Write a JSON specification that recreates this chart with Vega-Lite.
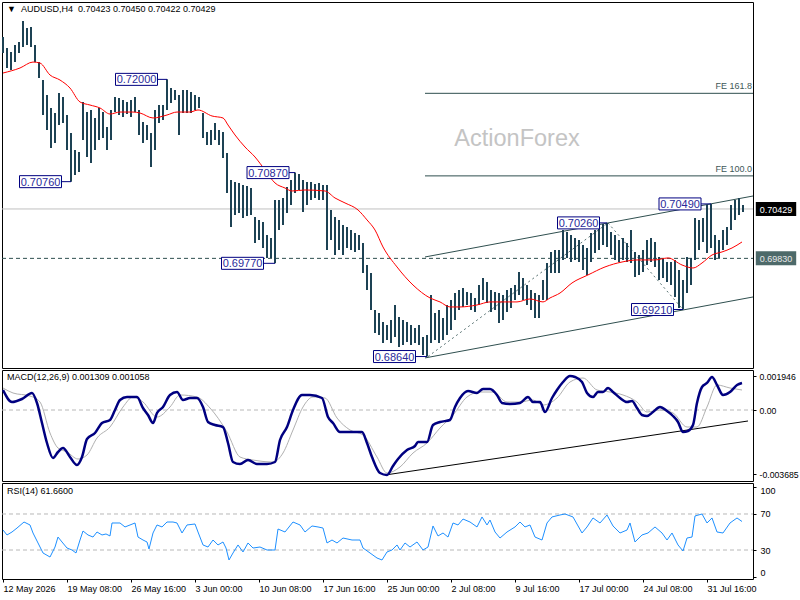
{
  "$schema": "https://vega.github.io/schema/vega-lite/v6.json",
  "background": "white",
  "autosize": {"type": "none"},
  "padding": {"left": 2, "top": 2, "right": 798, "bottom": 598},
  "bounds": "flush",
  "spacing": 2,
  "resolve": {"scale": {"x": "independent", "y": "independent"}},
  "config": {
    "font": "Liberation Sans",
    "view": {"stroke": "black", "strokeWidth": 1},
    "axis": {"labelFont": "Liberation Sans", "labelFontSize": 9, "labelColor": "black", "tickColor": "black", "tickSize": 3, "domain": false, "grid": false, "labelOverlap": false, "labelFlush": false},
    "text": {"font": "Liberation Sans"}
  },
  "datasets": {
    "bars": [
      {"i":0,"lo":0.7232,"hi":0.72514},{"i":2,"lo":0.72138,"hi":0.7238},{"i":4,"lo":0.72114,"hi":0.72332},{"i":6,"lo":0.7221,"hi":0.72417},
      {"i":8,"lo":0.7232,"hi":0.72453},{"i":10,"lo":0.72392,"hi":0.72707},{"i":12,"lo":0.72417,"hi":0.72623},{"i":14,"lo":0.72392,"hi":0.72635},
      {"i":16,"lo":0.7221,"hi":0.72417},{"i":18,"lo":0.72017,"hi":0.7221},{"i":20,"lo":0.71568,"hi":0.71992},{"i":22,"lo":0.71386,"hi":0.7181},
      {"i":24,"lo":0.71168,"hi":0.71653},{"i":26,"lo":0.71229,"hi":0.71592},{"i":28,"lo":0.71447,"hi":0.71835},{"i":30,"lo":0.71471,"hi":0.71786},
      {"i":32,"lo":0.71144,"hi":0.71568},{"i":34,"lo":0.7076,"hi":0.7135},{"i":36,"lo":0.70841,"hi":0.71144},{"i":38,"lo":0.70877,"hi":0.7112},
      {"i":40,"lo":0.71265,"hi":0.71726},{"i":42,"lo":0.71059,"hi":0.71604},{"i":44,"lo":0.70986,"hi":0.71629},{"i":46,"lo":0.71144,"hi":0.71532},
      {"i":48,"lo":0.71265,"hi":0.71653},{"i":50,"lo":0.71289,"hi":0.71604},{"i":52,"lo":0.71144,"hi":0.71423},{"i":54,"lo":0.71265,"hi":0.71629},
      {"i":56,"lo":0.71604,"hi":0.71786},{"i":58,"lo":0.71568,"hi":0.71774},{"i":60,"lo":0.71544,"hi":0.7175},{"i":62,"lo":0.7158,"hi":0.71726},
      {"i":64,"lo":0.71544,"hi":0.7175},{"i":66,"lo":0.71604,"hi":0.71786},{"i":68,"lo":0.71326,"hi":0.71629},{"i":70,"lo":0.71229,"hi":0.71483},
      {"i":72,"lo":0.71265,"hi":0.71447},{"i":74,"lo":0.70938,"hi":0.7135},{"i":76,"lo":0.71144,"hi":0.71629},{"i":78,"lo":0.71471,"hi":0.71689},
      {"i":80,"lo":0.71507,"hi":0.71689},{"i":82,"lo":0.71629,"hi":0.72},{"i":84,"lo":0.71713,"hi":0.71895},{"i":86,"lo":0.7175,"hi":0.71871},
      {"i":88,"lo":0.71326,"hi":0.7181},{"i":90,"lo":0.71592,"hi":0.71871},{"i":92,"lo":0.71592,"hi":0.71871},{"i":94,"lo":0.71592,"hi":0.71847},
      {"i":96,"lo":0.71629,"hi":0.7181},{"i":98,"lo":0.71653,"hi":0.71786},{"i":100,"lo":0.71289,"hi":0.71592},{"i":102,"lo":0.71204,"hi":0.71362},
      {"i":104,"lo":0.71204,"hi":0.71386},{"i":106,"lo":0.71265,"hi":0.71471},{"i":108,"lo":0.71204,"hi":0.71386},{"i":110,"lo":0.71047,"hi":0.71362},
      {"i":112,"lo":0.70623,"hi":0.71107},{"i":114,"lo":0.70211,"hi":0.7078},{"i":116,"lo":0.70356,"hi":0.70756},{"i":118,"lo":0.7038,"hi":0.70744},
      {"i":120,"lo":0.7032,"hi":0.7072},{"i":122,"lo":0.70344,"hi":0.70708},{"i":124,"lo":0.70356,"hi":0.70683},{"i":126,"lo":0.70017,"hi":0.70332},
      {"i":128,"lo":0.70053,"hi":0.70296},{"i":130,"lo":0.69956,"hi":0.70271},{"i":132,"lo":0.69835,"hi":0.70114},{"i":134,"lo":0.69835,"hi":0.70077},
      {"i":136,"lo":0.6977,"hi":0.70538},{"i":138,"lo":0.70174,"hi":0.70538},{"i":140,"lo":0.70235,"hi":0.70562},{"i":142,"lo":0.7038,"hi":0.70695},
      {"i":144,"lo":0.70477,"hi":0.7078},{"i":146,"lo":0.70623,"hi":0.7087},{"i":148,"lo":0.70659,"hi":0.70853},{"i":150,"lo":0.70392,"hi":0.7078},
      {"i":152,"lo":0.70477,"hi":0.70756},{"i":154,"lo":0.70538,"hi":0.70756},{"i":156,"lo":0.70562,"hi":0.70732},{"i":158,"lo":0.70538,"hi":0.70744},
      {"i":160,"lo":0.70538,"hi":0.7072},{"i":162,"lo":0.69932,"hi":0.7072},{"i":164,"lo":0.70053,"hi":0.70417},{"i":166,"lo":0.69871,"hi":0.70332},
      {"i":168,"lo":0.69932,"hi":0.70296},{"i":170,"lo":0.69871,"hi":0.70235},{"i":172,"lo":0.69956,"hi":0.70211},{"i":174,"lo":0.69932,"hi":0.70174},
      {"i":176,"lo":0.69908,"hi":0.70138},{"i":178,"lo":0.69932,"hi":0.70114},{"i":180,"lo":0.69653,"hi":0.70017},{"i":182,"lo":0.69447,"hi":0.6975},
      {"i":184,"lo":0.69204,"hi":0.69653},{"i":186,"lo":0.68926,"hi":0.69204},{"i":188,"lo":0.68901,"hi":0.69168},{"i":190,"lo":0.68804,"hi":0.69059},
      {"i":192,"lo":0.68841,"hi":0.69023},{"i":194,"lo":0.68804,"hi":0.69083},{"i":196,"lo":0.68877,"hi":0.69265},{"i":198,"lo":0.68756,"hi":0.6912},
      {"i":200,"lo":0.6878,"hi":0.69083},{"i":202,"lo":0.68817,"hi":0.69059},{"i":204,"lo":0.6878,"hi":0.69023},{"i":206,"lo":0.68804,"hi":0.68986},
      {"i":208,"lo":0.6878,"hi":0.69023},{"i":210,"lo":0.68659,"hi":0.68877},{"i":212,"lo":0.6864,"hi":0.68901},{"i":214,"lo":0.68804,"hi":0.69386},
      {"i":216,"lo":0.68841,"hi":0.69168},{"i":218,"lo":0.68804,"hi":0.69204},{"i":220,"lo":0.68841,"hi":0.69107},{"i":222,"lo":0.68901,"hi":0.69265},
      {"i":224,"lo":0.68962,"hi":0.69326},{"i":226,"lo":0.69083,"hi":0.6941},{"i":228,"lo":0.69204,"hi":0.69447},{"i":230,"lo":0.69241,"hi":0.69471},
      {"i":232,"lo":0.69265,"hi":0.69423},{"i":234,"lo":0.69204,"hi":0.6941},{"i":236,"lo":0.6918,"hi":0.6935},{"i":238,"lo":0.69265,"hi":0.69507},
      {"i":240,"lo":0.69326,"hi":0.69592},{"i":242,"lo":0.69289,"hi":0.69544},{"i":244,"lo":0.6918,"hi":0.69447},{"i":246,"lo":0.69204,"hi":0.69423},
      {"i":248,"lo":0.69047,"hi":0.6941},{"i":250,"lo":0.69083,"hi":0.69386},{"i":252,"lo":0.6918,"hi":0.69447},{"i":254,"lo":0.69229,"hi":0.69471},
      {"i":256,"lo":0.69326,"hi":0.69507},{"i":258,"lo":0.69386,"hi":0.69665},{"i":260,"lo":0.69326,"hi":0.69592},{"i":262,"lo":0.69265,"hi":0.69507},
      {"i":264,"lo":0.69204,"hi":0.69447},{"i":266,"lo":0.69107,"hi":0.6941},{"i":268,"lo":0.69107,"hi":0.69386},{"i":270,"lo":0.69326,"hi":0.69568},
      {"i":272,"lo":0.69326,"hi":0.69774},{"i":274,"lo":0.69653,"hi":0.69908},{"i":276,"lo":0.69653,"hi":0.69932},{"i":278,"lo":0.69653,"hi":0.69932},
      {"i":280,"lo":0.69811,"hi":0.70174},{"i":282,"lo":0.69835,"hi":0.7015},{"i":284,"lo":0.69786,"hi":0.70114},{"i":286,"lo":0.69811,"hi":0.70077},
      {"i":288,"lo":0.69786,"hi":0.70053},{"i":290,"lo":0.69689,"hi":0.69993},{"i":292,"lo":0.69629,"hi":0.69956},{"i":294,"lo":0.69786,"hi":0.70138},
      {"i":296,"lo":0.69896,"hi":0.70174},{"i":298,"lo":0.69932,"hi":0.70199},{"i":300,"lo":0.69993,"hi":0.70247},{"i":302,"lo":0.69968,"hi":0.7026},
      {"i":304,"lo":0.69871,"hi":0.7015},{"i":306,"lo":0.69811,"hi":0.70114},{"i":308,"lo":0.69786,"hi":0.70053},{"i":310,"lo":0.69811,"hi":0.70077},
      {"i":312,"lo":0.69786,"hi":0.70017},{"i":314,"lo":0.69774,"hi":0.70174},{"i":316,"lo":0.69604,"hi":0.69908},{"i":318,"lo":0.69629,"hi":0.69871},
      {"i":320,"lo":0.69665,"hi":0.69932},{"i":322,"lo":0.6975,"hi":0.70053},{"i":324,"lo":0.69786,"hi":0.70077},{"i":326,"lo":0.69726,"hi":0.70029},
      {"i":328,"lo":0.69568,"hi":0.69847},{"i":330,"lo":0.69592,"hi":0.69835},{"i":332,"lo":0.69544,"hi":0.69786},{"i":334,"lo":0.69507,"hi":0.69786},
      {"i":336,"lo":0.69362,"hi":0.69811},{"i":338,"lo":0.69229,"hi":0.69689},{"i":340,"lo":0.6921,"hi":0.69568},{"i":342,"lo":0.6941,"hi":0.69847},
      {"i":344,"lo":0.69507,"hi":0.69835},{"i":346,"lo":0.69811,"hi":0.7032},{"i":348,"lo":0.69932,"hi":0.70296},{"i":350,"lo":0.70029,"hi":0.7032},
      {"i":352,"lo":0.69896,"hi":0.70477},{"i":354,"lo":0.69956,"hi":0.7049},{"i":356,"lo":0.69811,"hi":0.70114},{"i":358,"lo":0.69835,"hi":0.70053},
      {"i":360,"lo":0.69932,"hi":0.70174},{"i":362,"lo":0.69993,"hi":0.70211},{"i":364,"lo":0.70174,"hi":0.70477},{"i":366,"lo":0.70296,"hi":0.70538},
      {"i":368,"lo":0.70356,"hi":0.70562},{"i":370,"lo":0.70392,"hi":0.70477}
    ],
    "ma": [
      {"i":0,"p":0.72077},{"i":8.5,"p":0.72138},{"i":15,"p":0.7221},{"i":18.5,"p":0.72198},{"i":23.5,"p":0.72053},{"i":28.5,"p":0.71992},
      {"i":33.5,"p":0.71895},{"i":38.5,"p":0.71726},{"i":43.5,"p":0.71689},{"i":48.5,"p":0.71653},{"i":53.5,"p":0.7158},{"i":58.5,"p":0.71604},
      {"i":65,"p":0.71604},{"i":68.5,"p":0.71592},{"i":75,"p":0.71532},{"i":82,"p":0.71568},{"i":87,"p":0.71604},{"i":93.5,"p":0.71604},
      {"i":97.5,"p":0.71629},{"i":104.5,"p":0.71556},{"i":110,"p":0.71532},{"i":112.5,"p":0.71447},{"i":116,"p":0.71326},{"i":121,"p":0.7118},
      {"i":126,"p":0.71059},{"i":131,"p":0.70901},{"i":136,"p":0.70744},{"i":141,"p":0.70683},{"i":144.5,"p":0.70647},{"i":151,"p":0.70659},
      {"i":161,"p":0.70647},{"i":166,"p":0.70562},{"i":171,"p":0.70502},{"i":177.5,"p":0.70417},{"i":182,"p":0.70296},{"i":186,"p":0.70174},
      {"i":190,"p":0.69968},{"i":197,"p":0.69726},{"i":205,"p":0.69507},{"i":213.5,"p":0.6935},{"i":218.5,"p":0.69302},{"i":223.5,"p":0.69241},
      {"i":228.5,"p":0.69241},{"i":237,"p":0.69265},{"i":243.5,"p":0.69302},{"i":250,"p":0.69302},{"i":257,"p":0.69302},{"i":263.5,"p":0.69338},
      {"i":270,"p":0.69302},{"i":273.5,"p":0.6935},{"i":278.5,"p":0.6941},{"i":284.5,"p":0.69532},{"i":292.5,"p":0.69629},{"i":301,"p":0.69726},
      {"i":309.5,"p":0.69786},{"i":317.5,"p":0.69811},{"i":326,"p":0.69811},{"i":332.5,"p":0.69835},{"i":339.5,"p":0.6975},{"i":345,"p":0.69713},
      {"i":349.5,"p":0.69774},{"i":354.5,"p":0.69871},{"i":359.5,"p":0.69908},{"i":364.5,"p":0.69956},{"i":369.5,"p":0.70029}
    ],
    "chan": [
      {"i":211,"p":0.69847,"i2":375,"p2":0.70586},
      {"i":211,"p":0.68623,"i2":375,"p2":0.69362},
      {"i":211,"p":0.7083,"i2":375,"p2":0.7083},
      {"i":211,"p":0.71831,"i2":375,"p2":0.71831}
    ],
    "fibdots": [
      {"i":212.5,"p":0.6864,"i2":302.5,"p2":0.7026},
      {"i":302.5,"p":0.7026,"i2":340,"p2":0.6921}
    ],
    "level": [{"i":-0.5,"i2":375,"p":0.6983}],
    "bid": [{"i":-0.5,"i2":375,"p":0.70429}],
    "fe": [{"t":"FE 161.8","i":374.5,"p":0.71831},{"t":"FE 100.0","i":374.5,"p":0.7083}],
    "brand": [{"t":"ActionForex","i":257,"p":0.71277}],
    "head": [{"t":"▼\u00a0\u00a0AUDUSD,H4\u00a0\u00a00.70423 0.70450 0.70422 0.70429","i":2,"p":0.72938}],
    "labels": [
      {"t":"0.72000","i":66.75,"p":0.72,"i2":82},
      {"t":"0.70760","i":18.75,"p":0.7076,"i2":34},
      {"t":"0.70870","i":132.5,"p":0.7087,"i2":146},
      {"t":"0.69770","i":119.75,"p":0.6977,"i2":136},
      {"t":"0.68640","i":195.75,"p":0.6864,"i2":212},
      {"t":"0.70260","i":287.75,"p":0.7026,"i2":302},
      {"t":"0.69210","i":324.75,"p":0.6921,"i2":340},
      {"t":"0.70490","i":338.5,"p":0.7049,"i2":354}
    ],
    "lastprice": [{"t":"0.70429","i":386.5,"p":0.70429}],
    "linelevel": [{"t":"0.69830","i":386.5,"p":0.6983}],
    "macdhead": [{"t":"MACD(12,26,9) 0.001309 0.001058","i":2,"m":0.0023}],
    "macd": [
      {"i":0,"m":0.00115},{"i":4.5,"m":0.00046},{"i":9.5,"m":0.000633},{"i":14.5,"m":0.000978},{"i":17,"m":0.000403},{"i":19.5,"m":-0.000748},
      {"i":22,"m":-0.001898},{"i":25,"m":-0.00276},{"i":27.5,"m":-0.002415},{"i":30,"m":-0.002185},{"i":33.5,"m":-0.002703},{"i":37,"m":-0.003163},
      {"i":39.5,"m":-0.002703},{"i":42,"m":-0.001668},{"i":46,"m":-0.001323},{"i":49.5,"m":-0.000748},{"i":53.5,"m":-0.000575},{"i":56,"m":0},
      {"i":58.5,"m":0.000575},{"i":62,"m":0.000748},{"i":67,"m":0.000748},{"i":70,"m":0.000115},{"i":72.5,"m":-0.000288},{"i":75,"m":-0.000748},
      {"i":77,"m":-0.000173},{"i":80,"m":0.000173},{"i":83.5,"m":0.000863},{"i":87,"m":0.001035},{"i":90,"m":0.000575},{"i":93.5,"m":0.00069},
      {"i":97,"m":0.00069},{"i":100,"m":0.000173},{"i":102.5,"m":-0.00069},{"i":106,"m":-0.000863},{"i":110,"m":-0.000978},{"i":112.5,"m":-0.001898},
      {"i":115,"m":-0.00299},{"i":118.5,"m":-0.003105},{"i":122.5,"m":-0.002875},{"i":127,"m":-0.003105},{"i":132,"m":-0.003105},{"i":136,"m":-0.00299},
      {"i":138.5,"m":-0.001725},{"i":142,"m":-0.000978},{"i":145,"m":0},{"i":149.5,"m":0.000863},{"i":153.5,"m":0.000863},{"i":159.5,"m":0.00069},
      {"i":162.5,"m":-0.000403},{"i":165,"m":-0.000748},{"i":168.5,"m":-0.001265},{"i":172.5,"m":-0.001265},{"i":179.5,"m":-0.001265},{"i":182,"m":-0.001898},
      {"i":184.5,"m":-0.002703},{"i":188.5,"m":-0.003623},{"i":192,"m":-0.003738},{"i":195,"m":-0.00322},{"i":197.5,"m":-0.002818},{"i":202,"m":-0.0023},
      {"i":206,"m":-0.00207},{"i":207.5,"m":-0.00184},{"i":212,"m":-0.00184},{"i":215,"m":-0.000863},{"i":218.5,"m":-0.00069},{"i":223.5,"m":-0.000575},
      {"i":226,"m":0.000173},{"i":228.5,"m":0.00069},{"i":232.5,"m":0.001093},{"i":237,"m":0.000978},{"i":240,"m":0.001208},{"i":243.5,"m":0.001208},
      {"i":247,"m":0.000863},{"i":249.5,"m":0.000403},{"i":253.5,"m":0.000345},{"i":258.5,"m":0.000403},{"i":262.5,"m":0.000748},{"i":265,"m":0.00046},
      {"i":268.5,"m":0.00046},{"i":271,"m":-0.000115},{"i":274.5,"m":0.00069},{"i":277,"m":0.00115},{"i":280,"m":0.00161},{"i":283.5,"m":0.001955},
      {"i":286,"m":0.001898},{"i":289.5,"m":0.00161},{"i":292,"m":0.000978},{"i":295,"m":0.000748},{"i":297.5,"m":0.001035},{"i":300,"m":0.001035},
      {"i":302.5,"m":0.001265},{"i":305,"m":0.001035},{"i":308.5,"m":0.00069},{"i":312,"m":0.00046},{"i":314.5,"m":0.000518},{"i":317,"m":0.000115},
      {"i":319.5,"m":-0.000288},{"i":322,"m":-0.000345},{"i":325,"m":-0.000115},{"i":328.5,"m":0.000173},{"i":332,"m":-0.000058},{"i":335,"m":-0.000345},
      {"i":337.5,"m":-0.00069},{"i":340,"m":-0.001265},{"i":342.5,"m":-0.001208},{"i":345,"m":-0.000863},{"i":347,"m":0.000403},{"i":349.5,"m":0.001323},
      {"i":352,"m":0.001553},{"i":354.5,"m":0.001898},{"i":357,"m":0.001438},{"i":360,"m":0.000863},{"i":363.5,"m":0.001035},{"i":367,"m":0.001438},
      {"i":369.5,"m":0.001553}
    ],
    "sig": [
      {"i":0,"m":0.001265},{"i":5,"m":0.000978},{"i":13.5,"m":0.000805},{"i":18.5,"m":0.00046},{"i":23.5,"m":-0.001323},{"i":27.5,"m":-0.002185},
      {"i":32,"m":-0.002415},{"i":37.5,"m":-0.002818},{"i":42,"m":-0.002588},{"i":47,"m":-0.00161},{"i":53.5,"m":-0.000978},{"i":60,"m":0.000173},
      {"i":65,"m":0.000748},{"i":70,"m":0.00046},{"i":77,"m":-0.000403},{"i":83.5,"m":0.000173},{"i":88.5,"m":0.000863},{"i":97,"m":0.000748},
      {"i":103.5,"m":0.000115},{"i":112,"m":-0.001265},{"i":118.5,"m":-0.002703},{"i":125,"m":-0.002875},{"i":135,"m":-0.00299},{"i":140,"m":-0.002473},
      {"i":145,"m":-0.00115},{"i":150,"m":0.000173},{"i":155,"m":0.000748},{"i":161,"m":0.00069},{"i":167,"m":-0.00046},{"i":173.5,"m":-0.00115},
      {"i":180,"m":-0.001438},{"i":187,"m":-0.002703},{"i":192,"m":-0.003623},{"i":198.5,"m":-0.003278},{"i":205,"m":-0.002473},{"i":212,"m":-0.001898},
      {"i":218.5,"m":-0.001035},{"i":225,"m":-0.000288},{"i":232,"m":0.000748},{"i":238.5,"m":0.001035},{"i":245,"m":0.001035},{"i":252,"m":0.00046},
      {"i":258.5,"m":0.00046},{"i":265,"m":0.000575},{"i":270,"m":0.000288},{"i":277,"m":0.00069},{"i":283.5,"m":0.00161},{"i":290,"m":0.00184},
      {"i":297,"m":0.00115},{"i":303.5,"m":0.001035},{"i":310,"m":0.000863},{"i":317,"m":0.00046},{"i":322,"m":-0.000115},{"i":328.5,"m":0},
      {"i":335,"m":-0.000173},{"i":342,"m":-0.000978},{"i":347,"m":-0.000978},{"i":352,"m":0.000173},{"i":357,"m":0.001438},{"i":363.5,"m":0.001265},
      {"i":369.5,"m":0.00115}
    ],
    "zero": [{"i":-0.5,"i2":375,"m":0}],
    "mtrend": [{"i":191,"m":-0.00374,"i2":372.5,"m2":-0.000632}],
    "rsihead": [{"t":"RSI(14) 61.6600","i":2,"r":104.44}],
    "rsi": [
      {"i":0,"r":52.2},{"i":2,"r":46.7},{"i":4.5,"r":50},{"i":7,"r":54.4},{"i":10.5,"r":61.1},{"i":13.5,"r":57.8},{"i":15,"r":48.9},{"i":17.5,"r":37.8},
      {"i":20,"r":26.7},{"i":23.5,"r":22.2},{"i":26,"r":33.3},{"i":27.5,"r":44.4},{"i":29.5,"r":38.9},{"i":32,"r":32.2},{"i":34.5,"r":30},{"i":36.5,"r":26.7},
      {"i":38.5,"r":41.1},{"i":40,"r":51.1},{"i":42.5,"r":46.7},{"i":45,"r":44.4},{"i":47,"r":50},{"i":49.5,"r":46.7},{"i":51.5,"r":47.8},{"i":53.5,"r":45.6},
      {"i":54.5,"r":60},{"i":58.5,"r":60},{"i":61,"r":55.6},{"i":63.5,"r":57.8},{"i":66,"r":60},{"i":67.5,"r":44.4},{"i":70,"r":41.1},{"i":72,"r":38.9},
      {"i":73,"r":31.1},{"i":75,"r":48.9},{"i":77,"r":57.8},{"i":79.5,"r":55.6},{"i":82,"r":61.1},{"i":85,"r":61.1},{"i":87,"r":60},{"i":89.5,"r":48.9},
      {"i":92,"r":57.8},{"i":96,"r":58.9},{"i":97.5,"r":50},{"i":100,"r":35.6},{"i":102.5,"r":33.3},{"i":105,"r":41.1},{"i":107.5,"r":35.6},{"i":110,"r":38.9},
      {"i":111.5,"r":32.2},{"i":113,"r":18.9},{"i":115,"r":26.7},{"i":117.5,"r":35.6},{"i":120,"r":27.8},{"i":122.5,"r":37.8},{"i":125,"r":32.2},{"i":128.5,"r":33.3},
      {"i":132,"r":30},{"i":136,"r":30},{"i":137.5,"r":53.3},{"i":141,"r":50},{"i":145,"r":61.1},{"i":148.5,"r":57.8},{"i":151,"r":50},{"i":154.5,"r":56.7},
      {"i":157.5,"r":55.6},{"i":160,"r":54.4},{"i":162,"r":37.8},{"i":164.5,"r":41.1},{"i":167,"r":37.8},{"i":170,"r":43.3},{"i":174.5,"r":41.1},{"i":178.5,"r":41.1},
      {"i":180,"r":32.2},{"i":183.5,"r":26.7},{"i":187,"r":21.1},{"i":189.5,"r":18.9},{"i":192,"r":27.8},{"i":194.5,"r":30},{"i":197,"r":35.6},{"i":198.5,"r":30},
      {"i":201,"r":37.8},{"i":203.5,"r":33.3},{"i":207,"r":38.9},{"i":210,"r":30},{"i":212.5,"r":33.3},{"i":215,"r":56.7},{"i":217.5,"r":45.6},{"i":220,"r":48.9},
      {"i":222.5,"r":44.4},{"i":225,"r":60},{"i":227.5,"r":57.8},{"i":230,"r":64.4},{"i":233.5,"r":61.1},{"i":237,"r":55.6},{"i":239.5,"r":66.7},{"i":242,"r":57.8},
      {"i":243.5,"r":63.3},{"i":246,"r":50},{"i":248.5,"r":43.3},{"i":252,"r":50},{"i":256,"r":55.6},{"i":258.5,"r":61.1},{"i":261,"r":55.6},{"i":263.5,"r":57.8},
      {"i":266,"r":44.4},{"i":269.5,"r":41.1},{"i":272,"r":60},{"i":274.5,"r":66.7},{"i":278.5,"r":68.9},{"i":281,"r":70},{"i":285,"r":66.7},{"i":289.5,"r":48.9},
      {"i":292,"r":55.6},{"i":295,"r":65.6},{"i":298.5,"r":60},{"i":302,"r":68.9},{"i":305,"r":56.7},{"i":308.5,"r":48.9},{"i":312,"r":52.2},{"i":313.5,"r":60},
      {"i":316,"r":38.9},{"i":319.5,"r":46.7},{"i":322.5,"r":48.9},{"i":326,"r":55.6},{"i":329.5,"r":48.9},{"i":332,"r":41.1},{"i":334.5,"r":48.9},{"i":337.5,"r":35.6},
      {"i":340,"r":28.9},{"i":342,"r":43.3},{"i":344.5,"r":44.4},{"i":346,"r":67.8},{"i":349.5,"r":70},{"i":352,"r":60},{"i":354.5,"r":65.6},{"i":357,"r":50},
      {"i":360,"r":48.9},{"i":363.5,"r":60},{"i":367,"r":65.6},{"i":369.5,"r":61.66}
    ],
    "rsilevels": [{"i":-0.5,"i2":375,"r":70},{"i":-0.5,"i2":375,"r":30}]
  },
  "vconcat": [
    {
      "width": 751,
      "height": 366,
      "encoding": {
        "x": {"field": "i", "type": "quantitative", "scale": {"domain": [-0.5, 375], "nice": false, "zero": false}, "axis": null},
        "y": {"field": "p", "type": "quantitative", "scale": {"domain": [0.68501, 0.72938], "nice": false, "zero": false},
              "axis": {"orient": "right", "title": null, "values": [0.7255, 0.7215, 0.7175, 0.7136, 0.7096, 0.7056, 0.7016, 0.6976, 0.6937, 0.6897, 0.6857], "format": ".5f", "labelPadding": 4}}
      },
      "layer": [
        {"data": {"name": "bid"}, "mark": {"type": "rule", "color": "#c0c0c0", "strokeWidth": 1}, "encoding": {"x2": {"field": "i2"}}},
        {"data": {"name": "level"}, "mark": {"type": "rule", "color": "#2f4f4f", "strokeWidth": 1, "strokeDash": [4, 3]}, "encoding": {"x2": {"field": "i2"}}},
        {"data": {"name": "brand"}, "mark": {"type": "text", "color": "#c4c4c4", "fontSize": 23.5, "align": "center", "baseline": "middle"}, "encoding": {"text": {"field": "t"}}},
        {"data": {"name": "chan"}, "mark": {"type": "rule", "color": "#2f4f4f", "strokeWidth": 1}, "encoding": {"x2": {"field": "i2"}, "y2": {"field": "p2"}}},
        {"data": {"name": "fibdots"}, "mark": {"type": "rule", "color": "#2f4f4f", "strokeWidth": 0.8, "strokeDash": [2, 3]}, "encoding": {"x2": {"field": "i2"}, "y2": {"field": "p2"}}},
        {"data": {"name": "bars"}, "mark": {"type": "rule", "color": "#1d4254", "strokeWidth": 2},
         "encoding": {"y": {"field": "lo", "type": "quantitative", "axis": null}, "y2": {"field": "hi"}}},
        {"data": {"name": "ma"}, "mark": {"type": "line", "color": "#ff0000", "strokeWidth": 1, "interpolate": "monotone"}},
        {"data": {"name": "fe"}, "mark": {"type": "text", "color": "#3e5858", "fontSize": 9, "align": "right", "baseline": "bottom", "dy": -2}, "encoding": {"text": {"field": "t"}}},
        {"data": {"name": "labels"}, "mark": {"type": "rule", "color": "#000080", "strokeWidth": 1}, "encoding": {"x2": {"field": "i2"}}},
        {"data": {"name": "labels"}, "mark": {"type": "point", "shape": "M-3.5,-1H3.5V1H-3.5Z", "size": 144, "filled": true, "fill": "white", "stroke": "#000080", "strokeWidth": 1, "opacity": 1}},
        {"data": {"name": "labels"}, "mark": {"type": "text", "color": "#2a2a9a", "fontSize": 11, "align": "center", "baseline": "middle", "dy": 1}, "encoding": {"text": {"field": "t"}}},
        {"data": {"name": "lastprice"}, "mark": {"type": "point", "shape": "M-3.2,-1H3.2V1H-3.2Z", "size": 144, "filled": true, "fill": "black", "stroke": "black", "opacity": 1}},
        {"data": {"name": "lastprice"}, "mark": {"type": "text", "color": "white", "fontSize": 9, "align": "center", "baseline": "middle", "dy": 1}, "encoding": {"text": {"field": "t"}}},
        {"data": {"name": "linelevel"}, "mark": {"type": "point", "shape": "M-3.2,-1H3.2V1H-3.2Z", "size": 144, "filled": true, "fill": "#4e6a6a", "stroke": "#4e6a6a", "opacity": 1}},
        {"data": {"name": "linelevel"}, "mark": {"type": "text", "color": "#e8e8e8", "fontSize": 9, "align": "center", "baseline": "middle", "dy": 1}, "encoding": {"text": {"field": "t"}}},
        {"data": {"name": "head"}, "mark": {"type": "text", "color": "black", "fontSize": 9, "align": "left", "baseline": "top", "dy": 3}, "encoding": {"text": {"field": "t"}}}
      ]
    },
    {
      "width": 751,
      "height": 111,
      "encoding": {
        "x": {"field": "i", "type": "quantitative", "scale": {"domain": [-0.5, 375], "nice": false, "zero": false}, "axis": null},
        "y": {"field": "m", "type": "quantitative", "scale": {"domain": [-0.0040825, 0.0023], "nice": false, "zero": false},
              "axis": {"orient": "right", "title": null, "values": [0.001946, 0, -0.003685], "labelExpr": "datum.value == 0 ? '0.00' : datum.value > 0 ? '0.001946' : '-0.003685'", "labelPadding": 3, "labelFontSize": 8.7}}
      },
      "layer": [
        {"data": {"name": "zero"}, "mark": {"type": "rule", "color": "#b8b8b8", "strokeWidth": 1, "strokeDash": [4, 3]}, "encoding": {"x2": {"field": "i2"}}},
        {"data": {"name": "mtrend"}, "mark": {"type": "rule", "color": "black", "strokeWidth": 1}, "encoding": {"x2": {"field": "i2"}, "y2": {"field": "m2"}}},
        {"data": {"name": "sig"}, "mark": {"type": "line", "color": "#b0b0b0", "strokeWidth": 1, "interpolate": "monotone"}},
        {"data": {"name": "macd"}, "mark": {"type": "line", "color": "#000080", "strokeWidth": 2.5, "interpolate": "monotone"}},
        {"data": {"name": "macdhead"}, "mark": {"type": "text", "color": "black", "fontSize": 9, "align": "left", "baseline": "top", "dy": 3}, "encoding": {"text": {"field": "t"}}}
      ]
    },
    {
      "width": 751,
      "height": 96,
      "encoding": {
        "x": {"field": "i", "type": "quantitative", "scale": {"domain": [-0.5, 375], "nice": false, "zero": false},
              "axis": {"orient": "bottom", "title": null, "values": [0, 32, 64, 96, 128, 160, 192, 224, 256, 288, 320, 352],
                       "labelExpr": "['12 May 2026','19 May 08:00','26 May 16:00','3 Jun 00:00','10 Jun 08:00','17 Jun 16:00','25 Jun 00:00','2 Jul 08:00','9 Jul 16:00','17 Jul 00:00','24 Jul 08:00','31 Jul 16:00'][round(datum.value / 32)]",
                       "labelAlign": "left", "labelBaseline": "top", "labelPadding": 2}},
        "y": {"field": "r", "type": "quantitative", "scale": {"domain": [-2.22, 104.44], "nice": false, "zero": false},
              "axis": {"orient": "right", "title": null, "values": [100, 70, 30, 0], "labelPadding": 4,
                       "labelBaseline": {"condition": {"test": "datum.value == 100", "value": "top"}, "value": "middle"},
                       "labelOffset": {"condition": {"test": "datum.value == 0", "value": -5}, "value": 0}}}
      },
      "layer": [
        {"data": {"name": "rsilevels"}, "mark": {"type": "rule", "color": "#b8b8b8", "strokeWidth": 1, "strokeDash": [4, 3]}, "encoding": {"x2": {"field": "i2"}}},
        {"data": {"name": "rsi"}, "mark": {"type": "line", "color": "#1e90ff", "strokeWidth": 1}},
        {"data": {"name": "rsihead"}, "mark": {"type": "text", "color": "black", "fontSize": 9, "align": "left", "baseline": "top", "dy": 4}, "encoding": {"text": {"field": "t"}}}
      ]
    }
  ]
}
